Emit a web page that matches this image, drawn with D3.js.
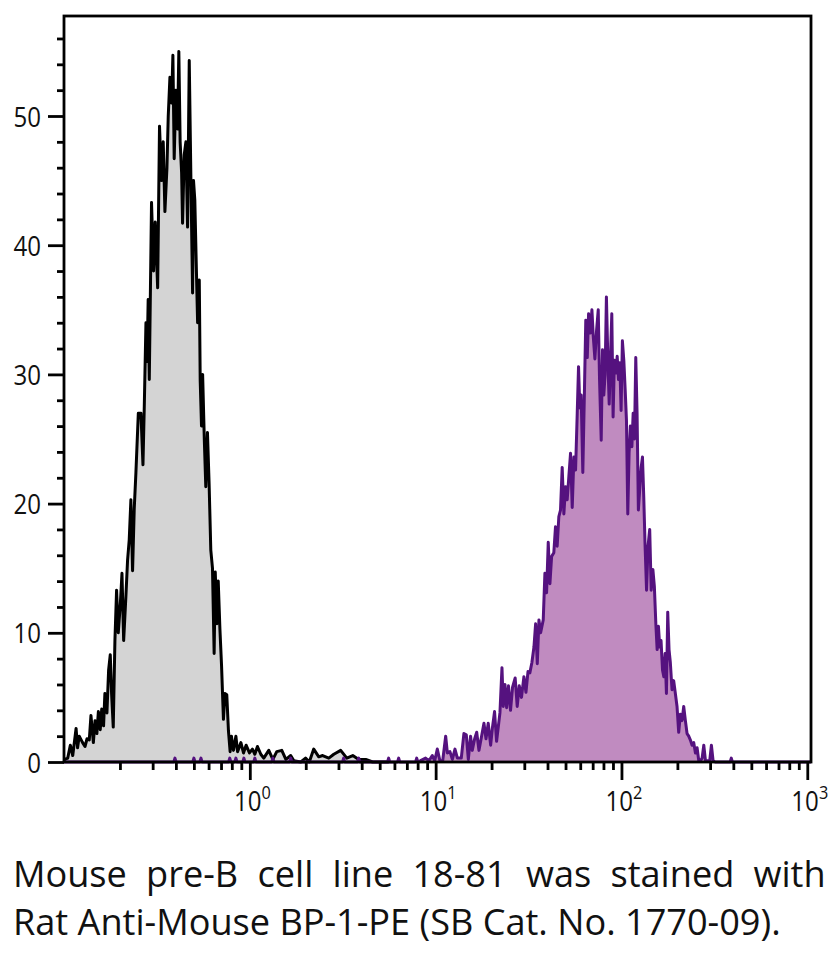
<!DOCTYPE html>
<html><head><meta charset="utf-8">
<script src="https://cdn.jsdelivr.net/npm/d3@7"></script>
<style>body{margin:0;background:#fff}svg{display:block}</style>
</head><body>
<script>
// ---- data (log10 fluorescence intensity, event count) ----
const isotypeHist = [[-1.000,0],[-0.995,0.2],[-0.980,0.3],[-0.966,1.3],[-0.953,0.5],[-0.935,2.6],[-0.927,1.1],[-0.918,2.0],[-0.900,1.5],[-0.887,1.2],[-0.876,1.8],[-0.864,1.7],[-0.855,3.6],[-0.842,1.5],[-0.833,3.2],[-0.823,2.2],[-0.815,3.9],[-0.805,2.5],[-0.797,4.1],[-0.787,2.8],[-0.780,5.3],[-0.769,3.8],[-0.760,7.1],[-0.751,8.3],[-0.744,5.3],[-0.735,2.7],[-0.726,9.4],[-0.717,13.3],[-0.708,10.0],[-0.697,12.2],[-0.688,14.6],[-0.679,9.4],[-0.667,12.8],[-0.658,15.6],[-0.649,17.2],[-0.640,20.3],[-0.631,14.8],[-0.622,19.6],[-0.613,22.4],[-0.600,27.0],[-0.586,27.0],[-0.575,23.0],[-0.568,27.5],[-0.559,34],[-0.553,31],[-0.547,35.8],[-0.541,29.6],[-0.529,43.3],[-0.518,38],[-0.509,41.8],[-0.496,36.7],[-0.486,49.2],[-0.475,45],[-0.466,48],[-0.457,42.6],[-0.446,46],[-0.439,50],[-0.430,53],[-0.421,51],[-0.414,54.7],[-0.407,46.7],[-0.398,52],[-0.389,49],[-0.382,55],[-0.375,48],[-0.367,45.6],[-0.362,41.7],[-0.353,47],[-0.344,48],[-0.335,41.4],[-0.326,54.3],[-0.317,45],[-0.308,36.3],[-0.303,45],[-0.296,43.5],[-0.289,39],[-0.281,34],[-0.272,37.3],[-0.267,29.5],[-0.260,26],[-0.254,30],[-0.245,25],[-0.237,21.3],[-0.228,25.5],[-0.219,21.5],[-0.210,16.4],[-0.201,15],[-0.192,8.4],[-0.186,14.7],[-0.177,10.7],[-0.170,14],[-0.161,10.3],[-0.152,7.4],[-0.142,3.3],[-0.134,5.3],[-0.124,5.2],[-0.115,2.4],[-0.106,0.8],[-0.099,2.0],[-0.088,0.9],[-0.075,2.0],[-0.066,0.8],[-0.048,1.5],[-0.034,0.7],[-0.020,1.3],[-0.002,0.7],[0.014,1.0],[0.027,0.6],[0.041,1.2],[0.059,0.6],[0.075,0.3],[0.102,0.9],[0.124,0.2],[0.145,0.8],[0.172,0.9],[0.194,0.2],[0.220,0.5],[0.237,0.1],[0.274,0],[0.300,0.3],[0.320,0],[0.344,1.0],[0.371,0.4],[0.392,0.5],[0.425,0.3],[0.452,0.6],[0.489,0.9],[0.522,0.3],[0.554,0.5],[0.586,0.2],[0.624,0.2],[0.661,0],[0.750,0]];

const stainedBlips = [-0.403,-0.301,-0.263,-0.108,-0.075,-0.032,0.027,0.124,0.220,0.505,0.586,0.747,0.801,0.898];
const stainedBlipCount = 0.3;

const stainedHist = [[0.919,0.1],[0.946,0.3],[0.964,0.1],[0.982,0.5],[0.995,0.1],[1.009,1.0],[1.023,0.1],[1.038,0.1],[1.054,2.0],[1.063,0.7],[1.077,0.8],[1.090,0.2],[1.104,1.0],[1.117,0.3],[1.138,0.3],[1.152,2.2],[1.165,2.1],[1.176,0.2],[1.188,2.0],[1.197,0.9],[1.210,1.8],[1.221,2.3],[1.233,0.9],[1.246,1.9],[1.260,3.0],[1.271,1.8],[1.283,3.0],[1.296,1.3],[1.306,2.7],[1.317,3.9],[1.328,1.6],[1.337,2.7],[1.346,3.8],[1.357,7.3],[1.364,4.3],[1.373,6.0],[1.382,4.2],[1.392,5.9],[1.403,4.0],[1.414,5.8],[1.428,6.5],[1.439,4.3],[1.450,5.9],[1.462,5.0],[1.475,6.6],[1.486,5.4],[1.497,7.0],[1.507,6.9],[1.518,7.7],[1.529,8.9],[1.538,10.7],[1.547,7.6],[1.556,11.0],[1.565,10.0],[1.579,11.0],[1.588,14.6],[1.597,13.1],[1.606,17.0],[1.615,13.8],[1.624,15.9],[1.636,16.2],[1.645,18.2],[1.654,16.7],[1.663,19.0],[1.672,19.5],[1.681,22.8],[1.690,19.2],[1.699,21.3],[1.708,20.3],[1.717,22.1],[1.726,23.9],[1.735,19.7],[1.744,23.6],[1.753,22.6],[1.762,27.0],[1.769,30.6],[1.776,27.4],[1.783,28.4],[1.792,22.4],[1.801,28.9],[1.808,34.2],[1.816,31.3],[1.823,34.7],[1.832,33.2],[1.841,35],[1.848,33],[1.857,31.2],[1.866,33.4],[1.875,35],[1.882,29.6],[1.891,24.9],[1.898,31.9],[1.905,28.4],[1.912,30],[1.919,36.0],[1.927,31],[1.934,27.7],[1.941,31.3],[1.948,34.7],[1.955,26.7],[1.962,31.1],[1.970,30.1],[1.977,31.4],[1.984,29.6],[1.991,30.9],[1.998,27.2],[2.005,32.6],[2.013,31],[2.020,28.8],[2.027,26.4],[2.034,19.2],[2.041,23.9],[2.048,26.0],[2.056,24.4],[2.063,27],[2.070,25],[2.077,31.3],[2.084,27],[2.091,19.5],[2.099,21.3],[2.106,22.8],[2.113,23.6],[2.120,20.5],[2.127,16.8],[2.135,13.3],[2.143,16.7],[2.152,18],[2.160,13.3],[2.169,14.9],[2.177,13.6],[2.185,10.7],[2.192,8.7],[2.199,10.5],[2.206,8.9],[2.213,9.4],[2.221,7.1],[2.228,6.6],[2.235,8.4],[2.242,5.3],[2.249,11.6],[2.256,8.7],[2.263,7.7],[2.272,5.6],[2.281,6.3],[2.290,5.3],[2.299,4.3],[2.308,2.3],[2.317,3.7],[2.326,3.2],[2.335,4.3],[2.344,3.2],[2.353,2.2],[2.362,2.0],[2.371,1.7],[2.380,1.3],[2.389,1.5],[2.398,0.7],[2.407,1.1],[2.416,0.1],[2.425,0.1],[2.434,0.3],[2.443,1.3],[2.452,0.1],[2.461,0.1],[2.475,0.1],[2.484,1.3],[2.493,0.1],[2.505,0],[2.585,0],[2.591,0.3],[2.597,0],[3.020,0]];

const yMajorTicks = [0,10,20,30,40,50];
const yMinorTicks = [2,4,6,8,12,14,16,18,22,24,26,28,32,34,36,38,42,44,46,48,52,54,56];
const xMajorExponents = [0,1,2,3];
const xMinorMultipliers = [2,3,4,5,6,7,8,9];
const captionLines = ["Mouse pre-B cell line 18-81 was stained with", "Rat Anti-Mouse BP-1-PE (SB Cat. No. 1770-09)."];

// ---- build ----
const W = 836, H = 953;
const plot = {left: 64, right: 811, top: 16, bottom: 762};
const svg = d3.select("body").append("svg").attr("width", W).attr("height", H);

const x = d3.scaleLog().domain([0.1, Math.pow(10, 3.02)]).range([plot.left, plot.right]);
const y = d3.scaleLinear().domain([0, (762-16)/12.92]).range([plot.bottom, plot.top]);

const stainedFull = [[-1.0, 0]];
stainedBlips.forEach(c => { stainedFull.push([c-0.006,0],[c,stainedBlipCount],[c+0.006,0]); });
stainedFull.push(...stainedHist);

const area = d3.area().x(d => x(Math.pow(10, d[0]))).y0(y(0)).y1(d => y(d[1]));
const line = d3.line().x(d => x(Math.pow(10, d[0]))).y(d => y(d[1]));

const g = svg.append("g");
g.append("path").datum(isotypeHist).attr("d", area).attr("fill", "#d4d4d4");
g.append("path").datum(stainedHist).attr("d", area).attr("fill", "#c08bc0");
g.append("path").datum(isotypeHist).attr("d", line).attr("fill", "none").attr("stroke", "#000").attr("stroke-width", 3).attr("stroke-linejoin", "round");
g.append("path").datum(stainedFull).attr("d", line).attr("fill", "none").attr("stroke", "#55127f").attr("stroke-width", 3).attr("stroke-linejoin", "round");

svg.append("rect").attr("x", plot.left).attr("y", plot.top)
  .attr("width", plot.right - plot.left).attr("height", plot.bottom - plot.top)
  .attr("fill", "none").attr("stroke", "#000").attr("stroke-width", 2.8);

const font = "'Open Sans', 'Noto Sans', sans-serif";
const squeeze = 0.86;

// y axis
const gy = svg.append("g").attr("transform", `translate(${plot.left},0)`)
  .call(d3.axisLeft(y).tickValues(yMajorTicks).tickSize(16).tickFormat(d3.format("d")));
const gy2 = svg.append("g").attr("transform", `translate(${plot.left},0)`)
  .call(d3.axisLeft(y).tickValues(yMinorTicks).tickSize(7).tickFormat(""));
[gy, gy2].forEach(s => { s.select(".domain").remove(); s.selectAll("line").attr("stroke", "#000").attr("stroke-width", 2.8); });
gy.selectAll("text").attr("x", null).attr("dy", "0.36em").attr("font-family", font).attr("font-size", 28).attr("fill", "#111")
  .attr("text-anchor", "end").attr("transform", `translate(-23,0) scale(${squeeze},1)`);

// x axis
const xMinor = [];
[-1,0,1,2].forEach(e => xMinorMultipliers.forEach(m => xMinor.push(m * Math.pow(10, e))));
const gx = svg.append("g").attr("transform", `translate(0,${plot.bottom})`)
  .call(d3.axisBottom(x).tickValues(xMajorExponents.map(e => Math.pow(10, e))).tickSize(18).tickFormat(""));
const gx2 = svg.append("g").attr("transform", `translate(0,${plot.bottom})`)
  .call(d3.axisBottom(x).tickValues(xMinor).tickSize(8).tickFormat(""));
[gx, gx2].forEach(s => { s.select(".domain").remove(); s.selectAll("line").attr("stroke", "#000").attr("stroke-width", 2.8); });

gx.selectAll(".tick").each(function(d) {
  const t = d3.select(this).append("text").attr("y", 0).attr("text-anchor", "middle")
    .attr("transform", `translate(2,49) scale(${squeeze},1)`)
    .attr("font-family", font).attr("font-size", 28).attr("fill", "#111");
  t.append("tspan").text("10");
  t.append("tspan").attr("dy", -12).attr("font-size", 19).text(Math.round(Math.log10(d)));
});

// caption
const cap = svg.append("g");
const l1 = cap.append("text").attr("font-family", font).attr("font-size", 36).attr("fill", "#111").text(captionLines[0]);
const l2 = cap.append("text").attr("font-family", font).attr("font-size", 36).attr("fill", "#111").text(captionLines[1]);
const w2 = l2.node().getComputedTextLength();
const sx = 768 / w2;
l2.attr("transform", `translate(13,935) scale(${sx},1)`);
const w1 = l1.node().getComputedTextLength();
const spaces = captionLines[0].split(" ").length - 1;
const extra = (813 / sx - w1) / spaces;
l1.attr("word-spacing", extra).attr("transform", `translate(13,887) scale(${sx},1)`);
</script>
</body></html>
